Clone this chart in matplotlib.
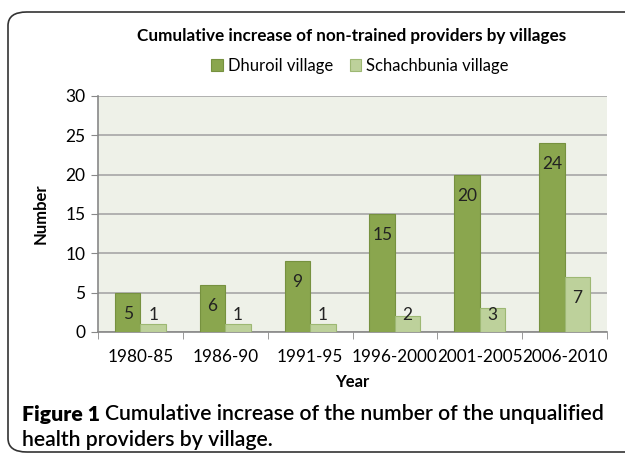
import matplotlib.pyplot as plt
import numpy as np
from matplotlib.patches import FancyBboxPatch

periods = ["1980-85", "1986-90", "1991-95", "1996-2000", "2001-2005", "2006-2010"]
dhuroil = [5, 6, 9, 15, 20, 24]
schachbunia = [1, 1, 1, 2, 3, 7]
series_names = ["Dhuroil village", "Schachbunia village"]

DARK = "#8aa64e"
LIGHT = "#bdd19b"
FONT = ["Lato", "DejaVu Sans"]

fig = plt.figure(figsize=(6.25, 4.55), dpi=100)

# rounded frame around the figure, cut at the right edge
frame = FancyBboxPatch((8 / 625, 3 / 455), 1.2, 440 / 455,
                       boxstyle="round,pad=0,rounding_size=0.03",
                       transform=fig.transFigure, fill=False,
                       edgecolor="#333333", linewidth=1.2, clip_on=False)
fig.patches.append(frame)

ax = fig.add_axes([98 / 625, 123 / 455, 509 / 625, 236 / 455])
ax.set_facecolor("#eef1e8")

x = np.arange(len(periods))
w = 0.3
ax.bar(x - w / 2, dhuroil, w, color=DARK, edgecolor="#76913f", linewidth=0.8,
       label=series_names[0], zorder=3)
ax.bar(x + w / 2, schachbunia, w, color=LIGHT, edgecolor="#9db873", linewidth=0.8,
       label=series_names[1], zorder=3)

for xi, v in zip(x - w / 2, dhuroil):
    ax.text(xi, max(v - 2.7, 2.2), str(v), ha="center", va="center",
            fontsize=12.5, family=FONT, color="#222222", zorder=4)
for xi, v in zip(x + w / 2, schachbunia):
    ax.text(xi, max(v - 2.7, 2.2), str(v), ha="center", va="center",
            fontsize=12.5, family=FONT, color="#222222", zorder=4)

ax.set_xlim(-0.5, len(periods) - 0.5)
ax.set_ylim(0, 30)
ax.set_yticks(range(0, 31, 5))
ax.yaxis.grid(True, color="#a6a6a6", linewidth=1.2, zorder=0)
ax.set_axisbelow(True)

ax.set_xticks(x)
ax.set_xticklabels(periods, family=FONT, fontsize=12.3)
ax.set_xticks(np.arange(-0.5, len(periods)), minor=True)
ax.tick_params(axis="x", which="major", length=0, pad=12)
ax.tick_params(axis="x", which="minor", length=5, color="#888888")
ax.tick_params(axis="y", length=5, color="#888888", pad=4)
for lab in ax.get_yticklabels():
    lab.set_family(FONT)
    lab.set_fontsize(12.5)

for s in ["top", "right"]:
    ax.spines[s].set_visible(False)
for s in ["left", "bottom"]:
    ax.spines[s].set_color("#888888")
    ax.spines[s].set_linewidth(1.2)

ax.set_ylabel("Number", family=FONT, fontsize=12, fontweight="bold", labelpad=12)
ax.set_xlabel("Year", family=FONT, fontsize=12, fontweight="bold", labelpad=7)

fig.text(352 / 625, 1 - 36 / 455, "Cumulative increase of non-trained providers by villages",
         ha="center", va="center", family=FONT, fontsize=12.3, fontweight="bold")
fig.legend(loc="center", bbox_to_anchor=(360 / 625, 1 - 66 / 455), ncol=2,
           frameon=False, prop={"family": FONT, "size": 12},
           handlelength=0.7, handleheight=0.7, handletextpad=0.3, columnspacing=1.0)

cap1 = fig.text(22 / 625, 1 - 414 / 455, "Figure 1 ", ha="left", va="center",
                family=FONT, fontsize=15.3, fontweight="heavy")
ax.annotate("Cumulative increase of the number of the unqualified",
            xy=(1, 0.5), xycoords=cap1, ha="left", va="center",
            family=FONT, fontsize=15.3, fontweight="semibold", annotation_clip=False)
fig.text(22 / 625, 1 - 440 / 455, "health providers by village.",
         ha="left", va="center", family=FONT, fontsize=15.3, fontweight="semibold")

fig.savefig("out.png", dpi=100)
